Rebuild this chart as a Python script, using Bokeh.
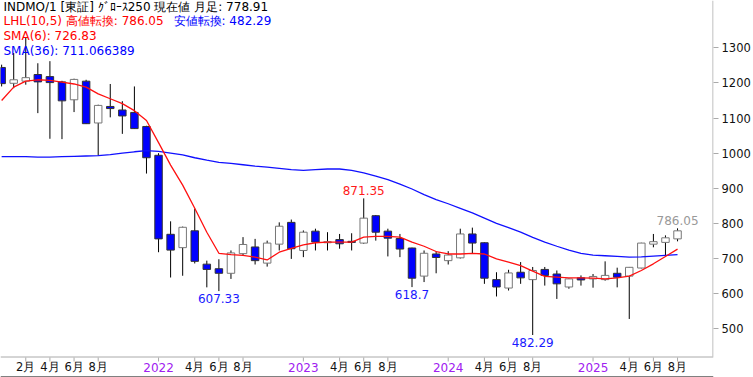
from bokeh.plotting import figure
from bokeh.models import Range1d, FixedTicker, Label, ColumnDataSource, LinearAxis
from bokeh.embed import file_html
from bokeh.resources import INLINE
from bokeh.core.properties import value

# ---------------- data (monthly candles, Dec 2020 .. Aug 2025) ----------------
months = ["2020-12",
          "2021-01", "2021-02", "2021-03", "2021-04", "2021-05", "2021-06",
          "2021-07", "2021-08", "2021-09", "2021-10", "2021-11", "2021-12",
          "2022-01", "2022-02", "2022-03", "2022-04", "2022-05", "2022-06",
          "2022-07", "2022-08", "2022-09", "2022-10", "2022-11", "2022-12",
          "2023-01", "2023-02", "2023-03", "2023-04", "2023-05", "2023-06",
          "2023-07", "2023-08", "2023-09", "2023-10", "2023-11", "2023-12",
          "2024-01", "2024-02", "2024-03", "2024-04", "2024-05", "2024-06",
          "2024-07", "2024-08", "2024-09", "2024-10", "2024-11", "2024-12",
          "2025-01", "2025-02", "2025-03", "2025-04", "2025-05", "2025-06",
          "2025-07", "2025-08"]

opens = [1244,
         1199, 1205, 1224, 1218, 1203, 1152, 1205, 1086, 1133, 1123, 1116, 1076,
         994, 769, 731, 779, 684, 671, 658, 714, 733, 687, 741, 803,
         723, 778, 745, 754, 749, 744, 822, 778, 757, 730, 650, 713,
         694, 702, 770, 745, 640, 616, 661, 640, 669, 656, 619, 645,
         642, 640, 658, 650, 673, 741, 746, 756]
highs = [1252,
         1285, 1330, 1256, 1262, 1206, 1212, 1209, 1138, 1197, 1148, 1190, 1078,
         1000, 806, 791, 842, 694, 698, 723, 761, 756, 751, 803, 811,
         780, 785, 775, 770, 772, 871.35, 824, 785, 770, 731, 723, 721,
         721, 785, 788, 746, 661, 668, 690, 676, 676, 666, 643, 652,
         656, 692, 674, 676, 745, 770, 766, 786.05]
lows = [1190,
        1185, 1195, 1114, 1041, 1040, 1117, 1083, 993, 1102, 1055, 1069, 942,
        718, 646, 651, 686, 618, 607.33, 642, 709, 683, 677, 723, 699,
        704, 723, 723, 728, 723, 742, 751, 706, 704, 618.7, 633, 658,
        683, 700, 713, 628, 592, 609, 628, 482.29, 623, 585, 614, 623,
        617, 637, 618, 528, 672, 732, 709, 749]
closes = [1198,
          1209, 1215, 1203, 1201, 1149, 1210, 1084, 1136, 1127, 1106, 1070, 987,
          756, 724, 789, 692, 669, 658, 716, 740, 694, 744, 792, 728,
          775, 747, 748, 742, 746, 815, 775, 758, 727, 644, 715, 703,
          710, 770, 744, 644, 619, 659, 645, 666, 652, 628, 642, 639,
          649, 652, 647, 675, 744, 748, 759, 778.91]

sma6 = [1150,
        1188, 1205, 1209, 1207, 1202, 1197, 1188, 1169, 1155, 1141, 1121, 1093,
        1030, 966, 909, 843, 775, 715, 711, 709, 704, 696, 718, 729,
        739, 745, 747, 747, 747, 761, 763, 763, 761, 747, 735, 720,
        713, 713, 715, 713, 699, 690, 680, 664, 649, 647, 645, 645,
        644, 642, 645, 650, 666, 685, 706, 726.83]
sma36 = [990,
         990, 990, 989, 989, 990, 991, 992, 993, 996, 1000, 1004, 1007,
         1005, 1000, 995, 987, 980, 974, 971, 967, 963, 960, 957, 953,
         951, 953, 955, 955, 951, 944, 935, 925, 912, 898, 882, 868,
         856, 843, 830, 815, 800, 788, 775, 760, 747, 735, 724, 715,
         710, 708, 706, 704, 705, 707, 709, 711.066389]

# x-axis ticks (month index, 0 = Jan 2021) and their labels
month_idx = [1, 3, 5, 7, 15, 17, 19, 27, 29, 31, 39, 41, 43, 51, 53, 55]
month_text = ["2月", "4月", "6月", "8月", "4月", "6月", "8月", "4月", "6月", "8月",
              "4月", "6月", "8月", "4月", "6月", "8月"]
year_idx = [12, 24, 36, 48]
year_text = ["2022", "2023", "2024", "2025"]
y_ticks = [500, 600, 700, 800, 900, 1000, 1100, 1200, 1300]

# annotated extremes: (month index, value, label, colour, above?)
peaks = [(17, 607.33, "607.33", "#1a1aff", False),
         (29, 871.35, "871.35", "#ff1a1a", True),
         (33, 618.7, "618.7", "#1a1aff", False),
         (43, 482.29, "482.29", "#1a1aff", False),
         (55, 786.05, "786.05", "#999999", True)]

# ---------------- geometry ----------------
W, H = 753, 377
FR_W = 713            # plot frame width (y axis sits to the right)
PLOT_B = 356          # bottom of the price area in pixels
X0, X1 = -1.094, 57.98
Y_TOP = 1434.7
SCALE = 356 / (1434.7 - 421.1)      # pixels per yen
Y_BOT = Y_TOP - H / SCALE


def px_x(px):
    return X0 + px * (X1 - X0) / FR_W


def px_y(py):
    return Y_TOP - py / SCALE


idx = list(range(-1, len(months) - 1))
tops = [max(o, c) for o, c in zip(opens, closes)]
bots = [min(o, c) for o, c in zip(opens, closes)]
bots = [b if t - b > 3 else t - 3 for t, b in zip(tops, bots)]
fills = ["#0000ff" if c < o else "#ffffff" for o, c in zip(opens, closes)]
lines = ["#333333" if c < o else "#777777" for o, c in zip(opens, closes)]

src = ColumnDataSource(dict(x=idx, o=opens, h=highs, l=lows, c=closes,
                            top=tops, bot=bots, fill=fills, line=lines,
                            s6=sma6, s36=sma36))

p = figure(width=W, height=H, output_backend="svg", toolbar_location=None,
           x_range=Range1d(X0, X1), y_range=Range1d(Y_BOT, Y_TOP),
           y_axis_location="right", x_axis_location=None,
           min_border_left=0, min_border_top=0, min_border_bottom=0,
           min_border_right=W - FR_W)
p.grid.visible = False
p.background_fill_color = "white"
p.border_fill_color = "white"
p.outline_line_color = None

# right price axis
yax = p.yaxis[0]
yax.ticker = FixedTicker(ticks=y_ticks)
yax.axis_line_color = None
yax.major_tick_line_color = "#aaaaaa"
yax.major_tick_out = 5
yax.major_tick_in = 0
yax.minor_tick_line_color = None
yax.major_label_standoff = 3
yax.major_label_text_font = "DejaVu Sans"
yax.major_label_text_font_size = "11.5px"
yax.major_label_text_color = "#111111"

# outer black border on the right edge (an empty axis)
edge = LinearAxis(ticker=FixedTicker(ticks=[]), axis_line_color="black",
                  major_tick_line_color=None, minor_tick_line_color=None,
                  major_label_text_font_size="0px")
p.add_layout(edge, "right")

# frame lines (gray) and outer border (black)
p.segment(x0=[px_x(712.5)], y0=[px_y(PLOT_B)], x1=[px_x(712.5)], y1=[Y_TOP],
          line_color="#aaaaaa", line_width=1)
p.segment(x0=[X0], y0=[px_y(PLOT_B + 0.5)], x1=[X1], y1=[px_y(PLOT_B + 0.5)],
          line_color="#aaaaaa", line_width=1)
p.segment(x0=[X0], y0=[px_y(H - 0.5)], x1=[X1], y1=[px_y(H - 0.5)],
          line_color="black", line_width=1)

# x axis: ticks and labels under the price area
all_ticks = sorted(month_idx + year_idx)
p.segment(x0=all_ticks, y0=[px_y(PLOT_B + 1)] * len(all_ticks),
          x1=all_ticks, y1=[px_y(PLOT_B + 5)] * len(all_ticks),
          line_color="#aaaaaa", line_width=1)
p.text(x=month_idx, y=[px_y(366.5)] * len(month_idx), text=month_text,
       text_font=value("DejaVu Sans"), text_font_size="11.5px", text_color="#111111",
       text_align="center", text_baseline="middle")
p.text(x=year_idx, y=[px_y(366.5)] * len(year_idx), text=year_text,
       text_font=value("DejaVu Sans"), text_font_size="12px", text_color="#a020f0",
       text_align="center", text_baseline="middle")

# candles
p.segment(x0="x", y0="l", x1="x", y1="h", source=src, line_color="black", line_width=1)
p.vbar(x="x", width=0.62, top="top", bottom="bot", source=src,
       fill_color="fill", line_color="line", line_width=1)

# moving averages
p.line(x="x", y="s36", source=src, line_color="#1010ff", line_width=1.3)
p.line(x="x", y="s6", source=src, line_color="#ff1010", line_width=1.3)

# extreme value labels
for i, v, t, col, above in peaks:
    off = -8 if above else 7.5
    p.add_layout(Label(x=i, y=v - off / SCALE, text=t, text_color=col,
                       text_font="DejaVu Sans", text_font_size="12px",
                       text_align="center", text_baseline="middle"))

# legend texts
legend_rows = [
    (3, 6, "INDMO/1 [東証] ｸﾞﾛｰｽ250  現在値 月足: 778.91", "#000000"),
    (3, 20.5, "LHL(10,5) 高値転換: 786.05", "#ff0000"),
    (173, 20.5, "安値転換: 482.29", "#0000ff"),
    (3, 35, "SMA(6): 726.83", "#ff0000"),
    (3, 50, "SMA(36): 711.066389", "#0000ff"),
]
for px, py, t, col in legend_rows:
    p.add_layout(Label(x=px_x(px), y=px_y(py), text=t, text_color=col,
                       text_font="DejaVu Sans", text_font_size="12px",
                       text_align="left", text_baseline="middle"))

open("out.html", "w").write(file_html(p, INLINE))
